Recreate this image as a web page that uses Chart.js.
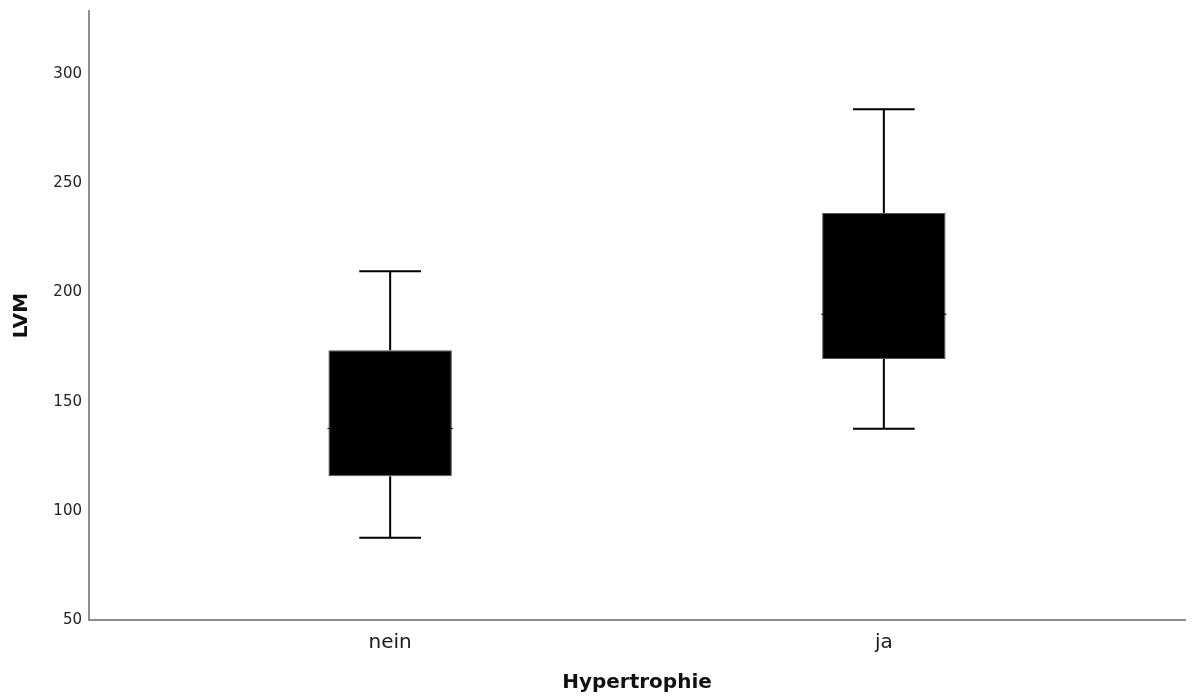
<!DOCTYPE html>
<html>
<head>
<meta charset="utf-8">
<script src="https://cdn.jsdelivr.net/npm/chart.js@4/dist/chart.umd.min.js"></script>
<style>
  html, body { margin: 0; padding: 0; background: #fff; }
  #wrap { width: 1192px; height: 698px; }
</style>
</head>
<body>
<div id="wrap"><canvas id="c"></canvas></div>
<script>
// Boxplot LVM nach Hypertrophie
const categories = ['nein', 'ja']
const whiskerLow = [87.7, 137.6]
const q1 = [115.9, 169.6]
const median = [137.8, 190.1]
const q3 = [173.6, 236.5]
const whiskerHigh = [209.8, 284]
const yTicks = [50, 100, 150, 200, 250, 300]

// floating bars for the boxes, x = 1, 2
let boxData = []
for (let i = 0; i < categories.length; i++) {
    boxData.push({ x: i + 1, y: [q1[i], q3[i]] })
}

// whiskers, caps and median drawn with the scales of the chart
const whiskerPlugin = {
    id: 'whiskers',
    afterDatasetsDraw(chart) {
        let ctx = chart.ctx
        let xs = chart.scales.x
        let ys = chart.scales.y
        let bars = chart.getDatasetMeta(0).data
        ctx.save()
        ctx.strokeStyle = '#000'
        for (let i = 0; i < categories.length; i++) {
            let cx = xs.getPixelForValue(i + 1)
            let half = bars[i].width / 2
            let cap = half / 2
            ctx.lineWidth = 2
            ctx.beginPath()
            ctx.moveTo(cx, ys.getPixelForValue(whiskerHigh[i]))
            ctx.lineTo(cx, ys.getPixelForValue(q3[i]))
            ctx.moveTo(cx, ys.getPixelForValue(q1[i]))
            ctx.lineTo(cx, ys.getPixelForValue(whiskerLow[i]))
            ctx.moveTo(cx - cap, ys.getPixelForValue(whiskerHigh[i]))
            ctx.lineTo(cx + cap, ys.getPixelForValue(whiskerHigh[i]))
            ctx.moveTo(cx - cap, ys.getPixelForValue(whiskerLow[i]))
            ctx.lineTo(cx + cap, ys.getPixelForValue(whiskerLow[i]))
            ctx.stroke()
            // median (same colour as box, only the ends show)
            ctx.lineWidth = 1
            ctx.beginPath()
            ctx.moveTo(cx - half - 1, ys.getPixelForValue(median[i]))
            ctx.lineTo(cx + half + 1, ys.getPixelForValue(median[i]))
            ctx.stroke()
        }
        ctx.restore()
    }
}

let chart = new Chart(document.getElementById('c'), {
    type: 'bar',
    data: {
        datasets: [{
            data: boxData,
            backgroundColor: '#000',
            borderColor: '#555',
            borderWidth: 1,
            borderSkipped: false,
            barPercentage: 0.25,
            categoryPercentage: 1
        }]
    },
    options: {
        responsive: true,
        maintainAspectRatio: false,
        animation: false,
        layout: { padding: { top: 11, right: 7, left: 0, bottom: 0 } },
        plugins: {
            legend: { display: false },
            tooltip: { enabled: false }
        },
        scales: {
            x: {
                type: 'linear',
                offset: false,
                min: 0.39,
                max: 2.61,
                grid: { display: false, drawTicks: false, tickLength: 0 },
                border: { display: true, color: '#8e8e8e', width: 2 },
                afterBuildTicks: (s) => { s.ticks = categories.map((c, i) => ({ value: i + 1 })) },
                afterFit: (s) => { s.height = 78; s.paddingLeft = 0; s.paddingRight = 0 },
                ticks: {
                    padding: 11,
                    color: '#1a1a1a',
                    font: { family: 'DejaVu Sans', size: 20 },
                    maxRotation: 0,
                    callback: (v) => categories[v - 1]
                },
                title: {
                    display: true,
                    text: 'Hypertrophie',
                    color: '#111',
                    font: { family: 'DejaVu Sans', size: 20, weight: 'bold' },
                    padding: { top: 0, bottom: 3 }
                }
            },
            y: {
                min: 50,
                max: 329,
                grid: { display: false, drawTicks: false, tickLength: 0 },
                border: { display: true, color: '#8e8e8e', width: 2 },
                afterBuildTicks: (s) => { s.ticks = yTicks.map(v => ({ value: v })) },
                afterFit: (s) => { s.width = 89; s.paddingTop = 0; s.paddingBottom = 0 },
                ticks: {
                    padding: 7,
                    color: '#222',
                    font: { family: 'DejaVu Sans', size: 15 }
                },
                title: {
                    display: true,
                    text: 'LVM',
                    color: '#111',
                    font: { family: 'DejaVu Sans', size: 20, weight: 'bold' },
                    padding: { top: 10, bottom: 0 }
                }
            }
        }
    },
    plugins: [whiskerPlugin]
})
</script>
</body>
</html>
